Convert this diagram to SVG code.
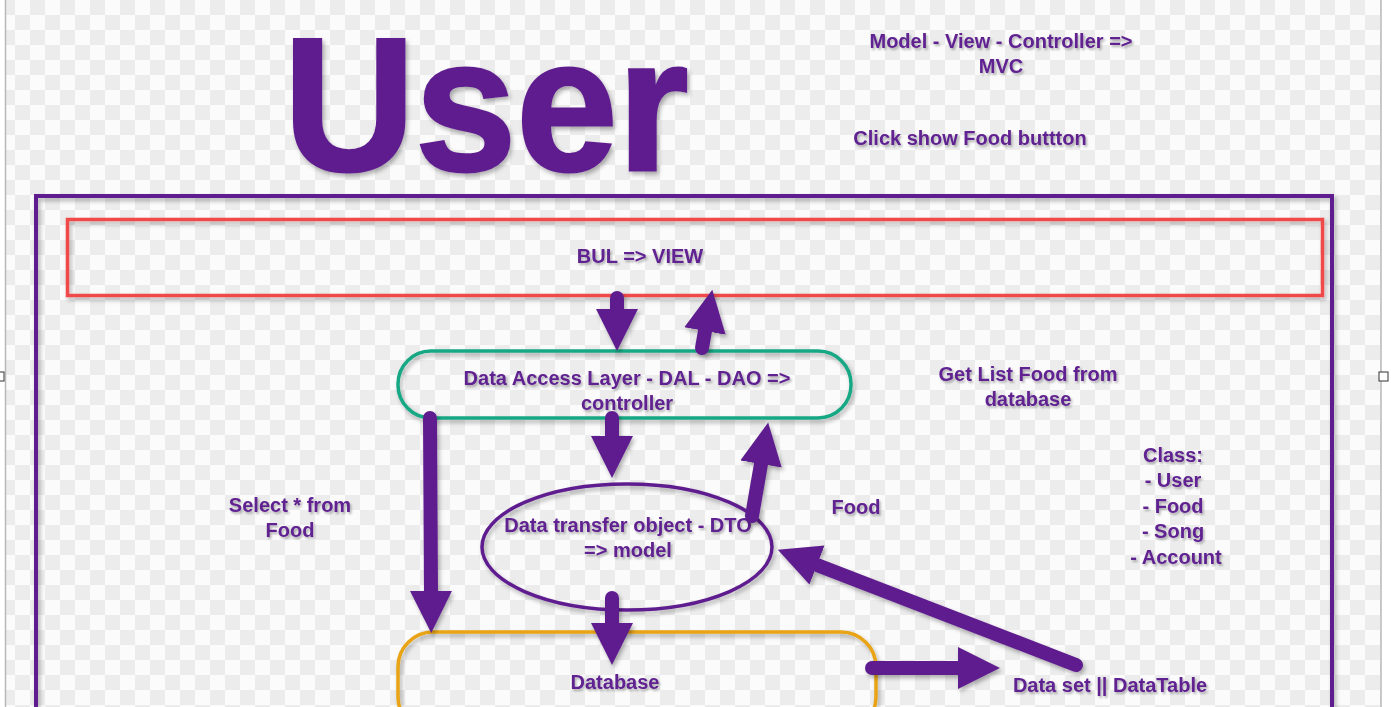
<svg xmlns="http://www.w3.org/2000/svg" width="1391" height="707" viewBox="0 0 1391 707">
<defs>
<pattern id="checker" x="0" y="0" width="30" height="30" patternUnits="userSpaceOnUse">
<rect width="30" height="30" fill="#fbfbfb"/>
<rect width="15" height="15" fill="#ececec"/>
<rect x="15" y="15" width="15" height="15" fill="#ececec"/>
</pattern>
<filter id="sh" filterUnits="userSpaceOnUse" x="0" y="0" width="1391" height="707">
<feDropShadow dx="2" dy="3" stdDeviation="2" flood-color="#000" flood-opacity="0.3"/>
</filter>
<filter id="tsh" filterUnits="userSpaceOnUse" x="0" y="0" width="1391" height="707">
<feDropShadow dx="1.5" dy="2" stdDeviation="1.2" flood-color="#000" flood-opacity="0.3"/>
</filter>
<marker id="head" markerUnits="userSpaceOnUse" markerWidth="44" markerHeight="44" refX="0" refY="21" orient="auto" viewBox="0 0 44 42">
<path d="M0,0 L42,21 L0,42 Z" fill="#5f1f8e"/>
</marker>
</defs>
<style>
.t{font-family:"Liberation Sans",Arial,sans-serif;font-weight:bold;font-size:20px;fill:#5f2190;text-anchor:middle;filter:url(#tsh)}
.arr{fill:none;stroke:#5f1f8e;stroke-width:14;stroke-linecap:round;marker-end:url(#head)}
</style>
<rect width="1391" height="707" fill="#ffffff"/>
<rect x="6" y="0" width="1375" height="707" fill="url(#checker)"/>
<line x1="5.5" y1="0" x2="5.5" y2="707" stroke="#b8b8b8" stroke-width="1.5"/>
<line x1="1381" y1="0" x2="1381" y2="707" stroke="#b8b8b8" stroke-width="1.5"/>
<rect x="-4" y="372" width="8" height="9" fill="#fff" stroke="#333" stroke-width="1"/>
<rect x="1379" y="372" width="9" height="9" fill="#fff" stroke="#333" stroke-width="1"/>

<g id="title">
<text x="486" y="170" font-family="Liberation Sans,Arial,sans-serif" font-weight="bold" font-size="190" fill="#5f1f8e" stroke="#5f1f8e" stroke-width="3" text-anchor="middle" textLength="405" lengthAdjust="spacingAndGlyphs" filter="url(#sh)">User</text>
</g>
<g id="notes">
<text class="t" x="1001" y="48">Model - View - Controller =&gt;</text>
<text class="t" x="1001" y="73">MVC</text>
<text class="t" x="970" y="145">Click show Food buttton</text>
<text class="t" x="1028" y="381">Get List Food from</text>
<text class="t" x="1028" y="406">database</text>
<text class="t" x="290" y="512">Select * from</text>
<text class="t" x="290" y="537">Food</text>
<text class="t" x="856" y="514">Food</text>
<text class="t" x="1173" y="462">Class:</text>
<text class="t" x="1173" y="487">- User</text>
<text class="t" x="1173" y="513">- Food</text>
<text class="t" x="1173" y="538">- Song</text>
<text class="t" x="1176" y="564">- Account</text>
</g>

<g id="container">
<rect x="36" y="196" width="1296" height="530" fill="none" stroke="#5f1f8e" stroke-width="4" filter="url(#sh)"/>
</g>
<g id="bul">
<rect x="67.5" y="219.5" width="1255" height="76" fill="none" stroke="#f04848" stroke-width="3.5" filter="url(#sh)"/>
<text class="t" x="640" y="263">BUL =&gt; VIEW</text>
</g>
<g id="dal">
<rect x="398" y="351" width="453" height="67" rx="33" fill="none" stroke="#17a884" stroke-width="3.5" filter="url(#sh)"/>
<text class="t" x="627" y="385">Data Access Layer - DAL - DAO =&gt;</text>
<text class="t" x="627" y="410">controller</text>
</g>
<g id="dto">
<ellipse cx="627" cy="547" rx="145" ry="63" fill="none" stroke="#5f1f8e" stroke-width="3.5" filter="url(#sh)"/>
<text class="t" x="628" y="532">Data transfer object - DTO</text>
<text class="t" x="628" y="557">=&gt; model</text>
</g>
<g id="database">
<rect x="398" y="632" width="478" height="100" rx="35" fill="none" stroke="#e8a416" stroke-width="3.5" filter="url(#sh)"/>
<text class="t" x="615" y="689">Database</text>
</g>
<g id="dataset">
<text class="t" x="1110" y="692">Data set || DataTable</text>
</g>

<g id="connectors" filter="url(#sh)">
<path class="arr" d="M617,298 L617,309"/>
<path class="arr" d="M702,348 L705,331"/>
<path class="arr" d="M612,418 L612,436"/>
<path class="arr" d="M752,516 L761,464"/>
<path class="arr" d="M430,418 L431,591"/>
<path class="arr" d="M612,598 L612,623"/>
<path class="arr" d="M872,668 L958,668"/>
<path class="arr" d="M1076,665 L817,565"/>
</g>
</svg>
